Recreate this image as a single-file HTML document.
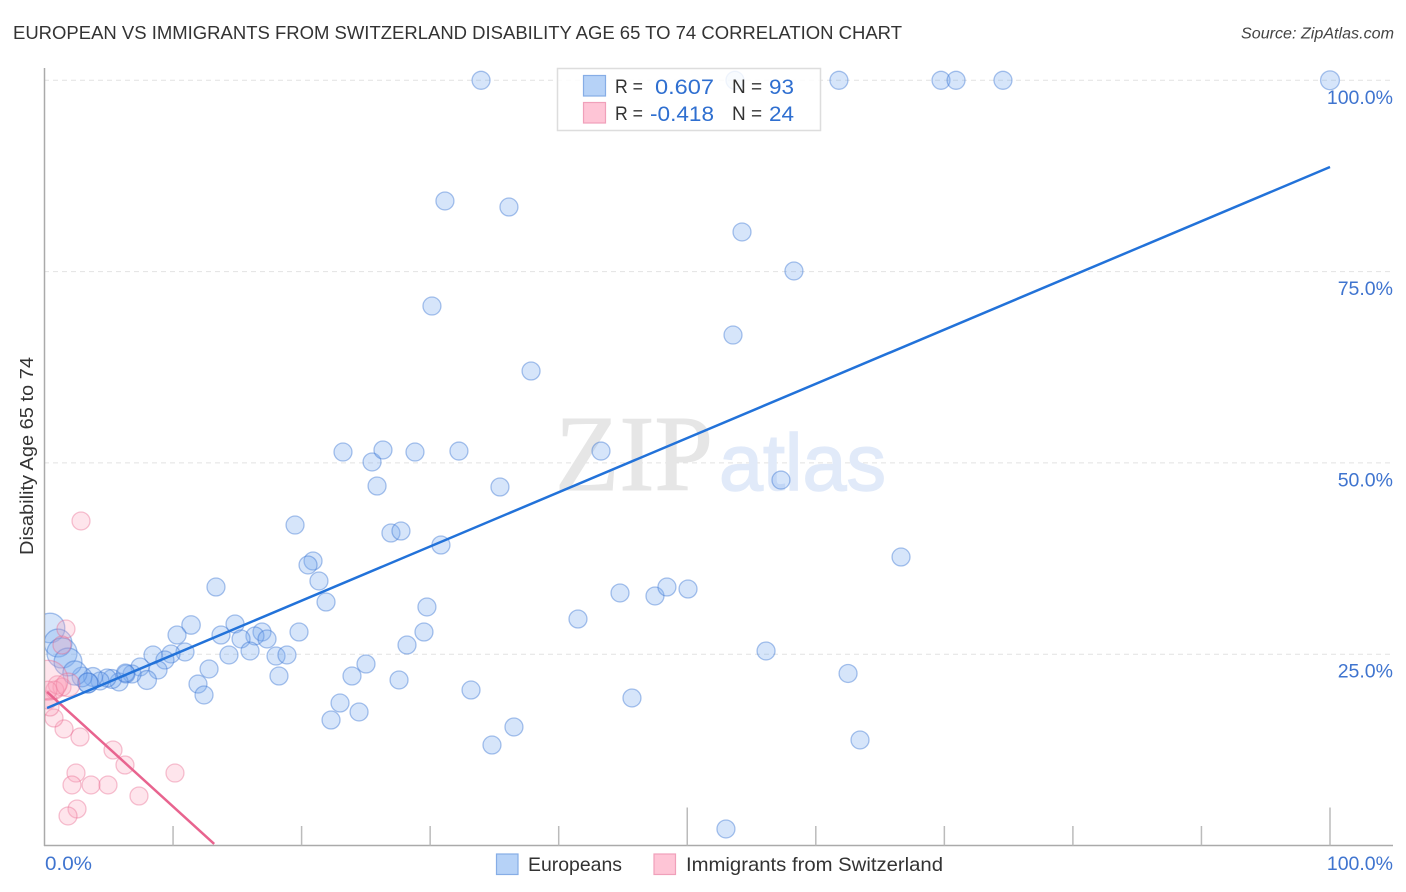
<!DOCTYPE html>
<html lang="en">
<head>
<meta charset="utf-8">
<title>European vs Immigrants from Switzerland Disability Age 65 to 74 Correlation Chart</title>
<style>
html,body{margin:0;padding:0;background:#fff;}
svg{display:block;font-family:"Liberation Sans",sans-serif;}
</style>
</head>
<body>
<svg id="chart" xmlns="http://www.w3.org/2000/svg" width="1406" height="892" viewBox="0 0 1406 892">
  <defs><clipPath id="plot-clip"><rect x="45" y="60" width="1349" height="785"/></clipPath></defs>
  <text x="13" y="39" font-size="18.5" fill="#333" textLength="889" lengthAdjust="spacingAndGlyphs">EUROPEAN VS IMMIGRANTS FROM SWITZERLAND DISABILITY AGE 65 TO 74 CORRELATION CHART</text>
  <text x="1394" y="38.500" font-size="15.500" font-style="italic" fill="#444" text-anchor="end" textLength="153" lengthAdjust="spacingAndGlyphs">Source: ZipAtlas.com</text>
  <g id="grid"></g>
  <g>
    <text x="555" y="490" font-family="'Liberation Serif',serif" font-size="108" fill="#e6e6e6" stroke="#e6e6e6" stroke-width="1" textLength="158" lengthAdjust="spacingAndGlyphs">ZIP</text>
    <text x="719" y="490" font-size="80" fill="#e1eaf9" stroke="#e1eaf9" stroke-width="1.500" textLength="167" lengthAdjust="spacingAndGlyphs">atlas</text>
  </g>
  <g id="axes"></g>
  <g id="points" clip-path="url(#plot-clip)"></g>
  <g id="lines"></g>
  <g id="ticklabels"></g>
  <text transform="translate(33,456) rotate(-90)" font-size="18.500" fill="#333" text-anchor="middle" textLength="198" lengthAdjust="spacingAndGlyphs">Disability Age 65 to 74</text>

  <g>
    <rect x="557.500" y="68.500" width="263" height="62" fill="#fff" fill-opacity="0.82" stroke="#ddd" stroke-width="1.500"/>
    <rect x="583.500" y="75.500" width="22" height="20.500" fill="#b6d2f7" stroke="#86ade6" stroke-width="1.200"/>
    <rect x="583.500" y="102.500" width="22" height="20.500" fill="#fec5d6" stroke="#f0a0ba" stroke-width="1.200"/>
    <g font-size="19" fill="#333">
      <text x="615" y="93" textLength="28" lengthAdjust="spacingAndGlyphs">R =</text>
      <text x="615" y="120" textLength="28" lengthAdjust="spacingAndGlyphs">R =</text>
      <text x="732" y="93">N =</text>
      <text x="732" y="120">N =</text>
    </g>
    <g font-size="21" fill="#2f6fd0" text-anchor="end">
      <text x="714" y="94" textLength="59" lengthAdjust="spacingAndGlyphs">0.607</text>
      <text x="714" y="121" textLength="64" lengthAdjust="spacingAndGlyphs">-0.418</text>
      <text x="794" y="94" textLength="25" lengthAdjust="spacingAndGlyphs">93</text>
      <text x="794" y="121" textLength="25" lengthAdjust="spacingAndGlyphs">24</text>
    </g>
  </g>

  <g>
    <rect x="496.500" y="854" width="21.500" height="20.500" fill="#b6d2f7" stroke="#86ade6" stroke-width="1.200"/>
    <text x="528" y="871" font-size="19.500" fill="#333" textLength="94" lengthAdjust="spacingAndGlyphs">Europeans</text>
    <rect x="654" y="854" width="21.500" height="20.500" fill="#fec5d6" stroke="#f0a0ba" stroke-width="1.200"/>
    <text x="686" y="871" font-size="19.500" fill="#333" textLength="257" lengthAdjust="spacingAndGlyphs">Immigrants from Switzerland</text>
  </g>
</svg>
<script>
const xTickValues = [10, 20, 30, 40, 50, 60, 70, 80, 90, 100];
const majorXTicks = [50, 100];
const yGridValues = [25, 50, 75, 100];
const yTickLabels = ['25.0%', '50.0%', '75.0%', '100.0%'];
const xTickLabels = ['0.0%', '100.0%'];

const europeansX = [33.96,53.71,61.80,69.74,70.91,74.56,100,31.15,36.13,54.26,58.30,30.14,53.56,37.85,23.22,25.48,26.33,28.82,32.24,43.29,25.87,35.43,57.29,19.49,26.95,27.73,30.84,20.89,20.50,21.35,21.90,13.34,29.75,44.77,47.49,48.42,50.06,66.63,41.50,11.40,14.82,19.80,29.52,28.20,16.92,16.37,17.31,13.73,15.29,10.31,15.99,18.01,18.86,14.35,10.93,9.84,8.44,9.37,8.83,7.43,12.80,25.01,23.92,18.24,27.58,56.13,62.51,33.18,45.70,11.94,12.41,22.99,24.47,22.29,36.52,34.81,63.44,53.01,7.97,6.81,6.34,5.80,5.25,4.86,4.32,3.77,3.38,2.92,0.43,1.05,1.36,1.83,2.37,3.38,6.30];
const europeansY = [100,100,100,100,100,100,100,84.23,83.44,80.18,75.08,70.50,66.71,62.01,51.42,50.12,51.69,51.42,51.55,51.55,46.98,46.85,47.76,41.88,40.84,41.10,39.27,37.18,36.66,34.57,31.82,33.78,31.17,33.00,32.61,33.78,33.52,37.70,29.60,28.82,28.95,27.90,27.90,26.20,27.90,27.38,26.99,27.51,26.99,27.51,25.42,24.76,24.90,24.90,25.29,25.03,24.90,24.24,22.94,23.33,23.07,23.72,22.15,22.15,21.63,25.42,22.48,20.32,19.28,21.10,19.67,18.62,17.45,16.40,15.49,13.13,13.79,2.16,21.63,22.41,22.41,21.37,21.76,21.89,21.50,22.02,21.24,22.02,28.43,26.46,25.16,23.98,22.54,21.24,22.54];
const europeansWeight = [1,1,1,1,1,1,1.1,1,1,1,1,1,1,1,1,1,1,1,1,1,1,1,1,1,1,1,1,1,1,1,1,1,1,1,1,1,1,1,1,1.05,1,1,1,1,1,1,1,1,1,1,1,1,1,1,1,1,1,1,1,1,1,1,1,1,1,1,1,1,1,1,1,1,1,1,1,1,1,1,1.1,1,1,1,1.1,1,1,1.1,1.2,1.2,2.7,2.4,2.8,2.4,1.8,1.25,1];

const immigrantsX = [2.84,1.67,1.36,10.15,5.33,6.26,2.76,1.52,0.74,0.43,0.27,2.45,2.14,3.62,4.94,7.35,2.53,1.83,1.00,1.36,0.80,0.27,1.83,0.27];
const immigrantsY = [42.41,28.29,26.20,9.47,12.48,10.52,14.18,15.23,16.66,18.10,19.03,9.47,7.91,7.91,7.91,6.47,4.77,3.86,21.00,20.70,20.30,20.30,21.00,21.60];
const immigrantsWeight = [1,1,1,1,1,1,1,1,1,1,1,1,1,1,1,1,1,1,1,1,1,1,1.7,4.9];

const europeansTrendX = [0.2, 100];
const europeansTrendY = [17.97, 88.67];
const immigrantsTrendX = [0.2, 13.2];
const immigrantsTrendY = [20.07, 0.2];

const NS = 'http://www.w3.org/2000/svg';
function xScale(v) { return 44.5 + v * 12.855; }
function yScale(v) { return 845.5 - v * 7.652; }
function rScale(w) { return 9 * Math.sqrt(w); }
function make(tag, parent, attrs) {
  const el = document.createElementNS(NS, tag);
  for (const k in attrs) el.setAttribute(k, attrs[k]);
  parent.appendChild(el);
  return el;
}

const grid = document.getElementById('grid');
const axes = document.getElementById('axes');
const points = document.getElementById('points');
const lines = document.getElementById('lines');
const labels = document.getElementById('ticklabels');

yGridValues.forEach(function (v) {
  const g = make('line', grid, {x1: 44, x2: 1393, y1: yScale(v), y2: yScale(v), stroke: '#e2e2e2', 'stroke-width': 1, 'stroke-dasharray': '5 4'});
  
  
});

const yAxis = make('line', axes, {x1: 44.5, x2: 44.5, y1: 68, y2: 846, stroke: '#aaa', 'stroke-width': 1.5});


const xAxis = make('line', axes, {x1: 44, x2: 1393, y1: 845.5, y2: 845.5, stroke: '#aaa', 'stroke-width': 1.5});


xTickValues.forEach(function (v) {
  const top = majorXTicks.indexOf(v) >= 0 ? 807.5 : 826;
  const t = make('line', axes, {x1: xScale(v), x2: xScale(v), y1: top, y2: 845.5, stroke: '#bbb', 'stroke-width': 1.5});
  
  
});

function drawSeries(xs, ys, ws, fill, stroke, name) {
  xs.forEach(function (x, i) {
    const c = make('circle', points, {cx: xScale(x), cy: yScale(ys[i]), r: rScale(ws[i]), fill: fill, stroke: stroke, 'stroke-width': 1.3});
    
    
  });
}
drawSeries(europeansX, europeansY, europeansWeight, 'rgba(120,170,240,0.3)', 'rgba(55,115,210,0.42)', 'europeans-point');
drawSeries(immigrantsX, immigrantsY, immigrantsWeight, 'rgba(250,160,185,0.28)', 'rgba(232,100,140,0.38)', 'immigrants-point');

const pinkLine = make('line', lines, {x1: xScale(immigrantsTrendX[0]), y1: yScale(immigrantsTrendY[0]), x2: xScale(immigrantsTrendX[1]), y2: yScale(immigrantsTrendY[1]), stroke: '#e8648f', 'stroke-width': 2.500});


const blueLine = make('line', lines, {x1: xScale(europeansTrendX[0]), y1: yScale(europeansTrendY[0]), x2: xScale(europeansTrendX[1]), y2: yScale(europeansTrendY[1]), stroke: '#2272d9', 'stroke-width': 2.500});



yGridValues.forEach(function (v, i) {
  const t = make('text', labels, {x: 1393, y: yScale(v) + 23.5, 'font-size': 19.5, fill: '#3f74cf', 'text-anchor': 'end'});
  t.textContent = yTickLabels[i];
  
  
});
const x0Label = make('text', labels, {x: 45, y: 870, 'font-size': 19.5, fill: '#3f74cf', textLength: 47, lengthAdjust: 'spacingAndGlyphs'});
x0Label.textContent = xTickLabels[0];


const x1Label = make('text', labels, {x: 1393, y: 870, 'font-size': 19.5, fill: '#3f74cf', 'text-anchor': 'end'});
x1Label.textContent = xTickLabels[1];


</script>
</body>
</html>
